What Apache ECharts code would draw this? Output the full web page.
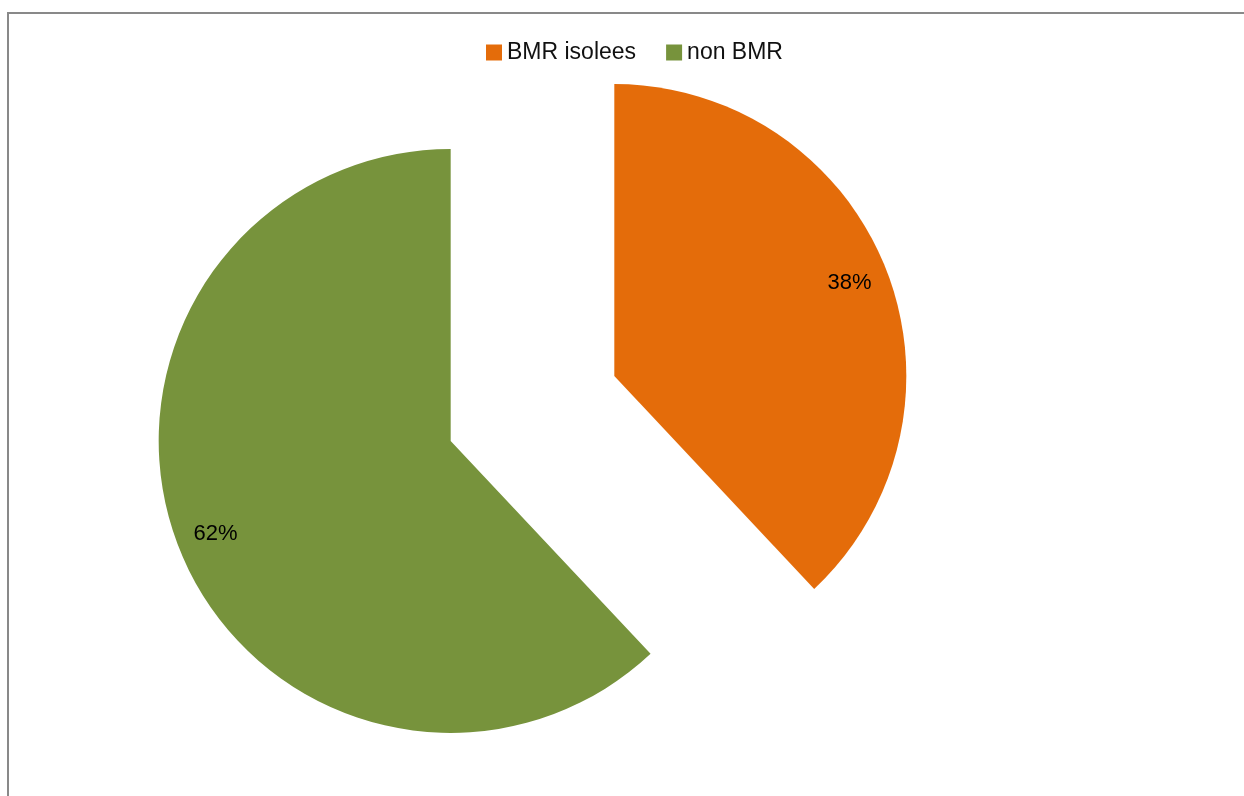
<!DOCTYPE html>
<html>
<head>
<meta charset="utf-8">
<script src="https://cdn.jsdelivr.net/npm/echarts@6/dist/echarts.min.js"></script>
<style>
html,body{margin:0;padding:0;background:#fff;}
#c{width:1244px;height:796px;}
</style>
</head>
<body>
<div id="c"></div>
<script>
const categories = ['BMR isolees', 'non BMR'];
const values = [38, 62];
const colors = ['#E46C0A', '#77933C'];

const chart = echarts.init(document.getElementById('c'), null, {renderer: 'canvas'});

const pieData = categories.map((name, i) => ({
  name: name,
  value: values[i],
  selected: true,
  itemStyle: {color: colors[i]}
}));
const labelData = categories.map((name, i) => ({
  name: name,
  value: values[i],
  selected: true
}));

const common = {
  type: 'pie',
  center: [532.5, 408.5],
  startAngle: 90,
  clockwise: true,
  selectedMode: 'multiple',
  selectedOffset: 88,
  animation: false,
  emphasis: {disabled: true},
  labelLine: {show: false}
};

chart.setOption({
  backgroundColor: '#ffffff',
  graphic: [{
    type: 'rect',
    shape: {x: 8, y: 13, width: 1400, height: 900},
    style: {fill: 'none', stroke: '#898989', lineWidth: 2},
    silent: true
  }],
  legend: {
    data: categories,
    left: 486,
    top: 41,
    padding: 0,
    itemWidth: 16,
    itemHeight: 16,
    itemGap: 30,
    icon: 'rect',
    selectedMode: false,
    textStyle: {fontFamily: 'Liberation Sans', fontSize: 23, color: '#111', lineHeight: 22}
  },
  series: [
    Object.assign({}, common, {
      name: 'pie',
      radius: [0, 292],
      label: {show: false},
      data: pieData
    }),
    Object.assign({}, common, {
      name: 'labels',
      radius: [208, 292],
      silent: true,
      itemStyle: {color: 'rgba(0,0,0,0)'},
      label: {
        show: true,
        position: 'inside',
        formatter: p => p.value + '%',
        fontFamily: 'Liberation Sans',
        fontSize: 22,
        color: '#000'
      },
      data: labelData
    })
  ]
});
</script>
</body>
</html>
